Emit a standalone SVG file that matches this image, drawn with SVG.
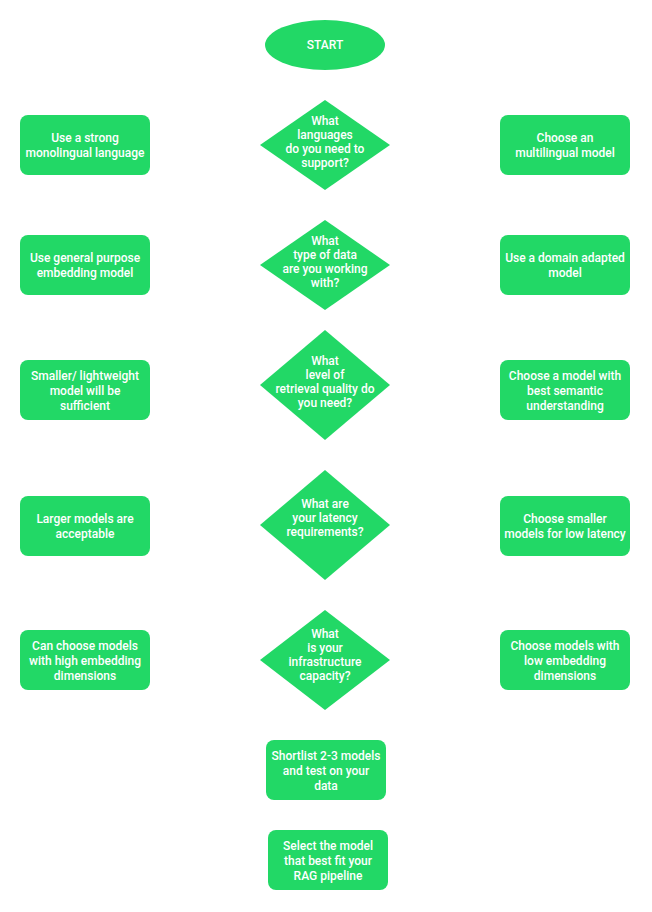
<svg xmlns="http://www.w3.org/2000/svg" width="652" height="912" viewBox="0 0 652 912">
<style>
.s{fill:#22d866;stroke:none}
text{font-family:Roboto,"Liberation Sans",sans-serif;font-size:12px;font-weight:500;fill:#fff;text-anchor:middle}
</style>
<rect width="652" height="912" fill="#fff"/>
<g id="connectors"></g>
<g id="start"><ellipse class="s" cx="325" cy="45" rx="60" ry="25"/><text x="325" y="49">START</text></g>
<g id="q1"><polygon class="s" points="325,100 390,145 325,190 260,145"/><text x="325" y="125">What</text><text x="325" y="139">languages</text><text x="325" y="153">do you need to</text><text x="325" y="167">support?</text></g>
<g id="q2"><polygon class="s" points="325,220 390,265 325,310 260,265"/><text x="325" y="245">What</text><text x="325" y="259">type of data</text><text x="325" y="273">are you working</text><text x="325" y="287">with?</text></g>
<g id="q3"><polygon class="s" points="325,330 390,385 325,440 260,385"/><text x="325" y="365">What</text><text x="325" y="379">level of</text><text x="325" y="393">retrieval quality do</text><text x="325" y="407">you need?</text></g>
<g id="q4"><polygon class="s" points="325,470 390,525 325,580 260,525"/><text x="325" y="508">What are</text><text x="325" y="522">your latency</text><text x="325" y="536">requirements?</text></g>
<g id="q5"><polygon class="s" points="325,610 390,660 325,710 260,660"/><text x="325" y="638">What</text><text x="325" y="652">is your</text><text x="325" y="666">infrastructure</text><text x="325" y="680">capacity?</text></g>
<g id="l1"><rect class="s" x="20" y="115" width="130" height="60" rx="8"/><text x="85" y="142">Use a strong</text><text x="85" y="157">monolingual language</text></g>
<g id="r1"><rect class="s" x="500" y="115" width="130" height="60" rx="8"/><text x="565" y="142">Choose an</text><text x="565" y="157">multilingual model</text></g>
<g id="l2"><rect class="s" x="20" y="235" width="130" height="60" rx="8"/><text x="85" y="262">Use general purpose</text><text x="85" y="277">embedding model</text></g>
<g id="r2"><rect class="s" x="500" y="235" width="130" height="60" rx="8"/><text x="565" y="262">Use a domain adapted</text><text x="565" y="277">model</text></g>
<g id="l3"><rect class="s" x="20" y="360" width="130" height="60" rx="8"/><text x="85" y="380">Smaller/ lightweight</text><text x="85" y="395">model will be</text><text x="85" y="410">sufficient</text></g>
<g id="r3"><rect class="s" x="500" y="360" width="130" height="60" rx="8"/><text x="565" y="380">Choose a model with</text><text x="565" y="395">best semantic</text><text x="565" y="410">understanding</text></g>
<g id="l4"><rect class="s" x="20" y="496" width="130" height="60" rx="8"/><text x="85" y="523">Larger models are</text><text x="85" y="538">acceptable</text></g>
<g id="r4"><rect class="s" x="500" y="496" width="130" height="60" rx="8"/><text x="565" y="523">Choose smaller</text><text x="565" y="538">models for low latency</text></g>
<g id="l5"><rect class="s" x="20" y="630" width="130" height="60" rx="8"/><text x="85" y="650">Can choose models</text><text x="85" y="665">with high embedding</text><text x="85" y="680">dimensions</text></g>
<g id="r5"><rect class="s" x="500" y="630" width="130" height="60" rx="8"/><text x="565" y="650">Choose models with</text><text x="565" y="665">low embedding</text><text x="565" y="680">dimensions</text></g>
<g id="shortlist"><rect class="s" x="266" y="740" width="120" height="60" rx="8"/><text x="326" y="760">Shortlist 2-3 models</text><text x="326" y="775">and test on your</text><text x="326" y="790">data</text></g>
<g id="select"><rect class="s" x="268" y="830" width="120" height="60" rx="8"/><text x="328" y="850">Select the model</text><text x="328" y="865">that best fit your</text><text x="328" y="880">RAG pipeline</text></g>
</svg>
